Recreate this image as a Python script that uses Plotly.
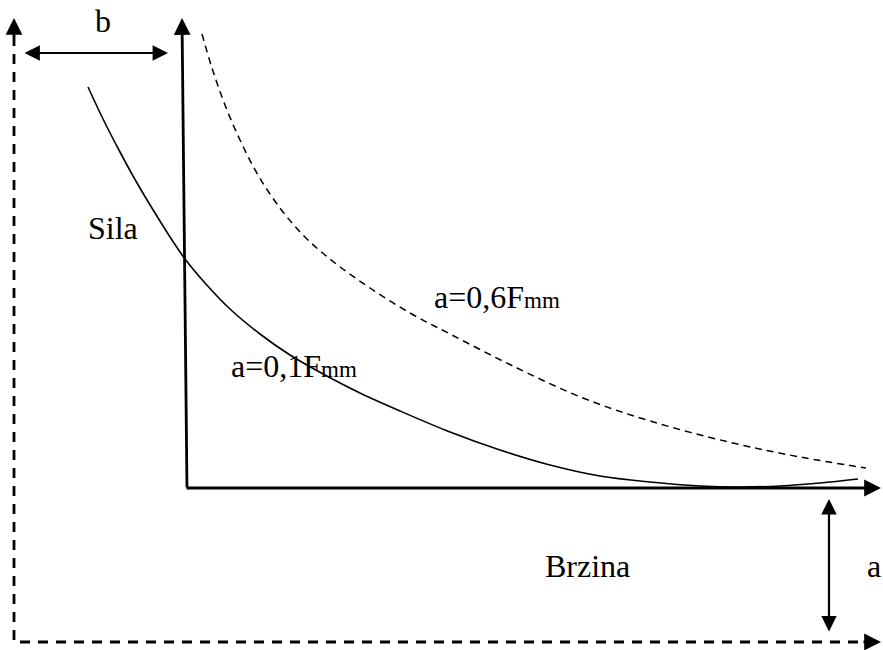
import plotly.graph_objects as go

# Curve data (in the picture's coordinate frame)
solid_x = [88, 104, 120, 137, 155, 172, 185, 205, 230, 260, 290, 325, 360, 400, 450, 500, 550, 600, 650, 700, 740, 780, 820, 858]
solid_y = [87, 121, 152, 183, 213, 240, 259, 283, 309, 334, 355, 375, 393, 411, 432, 450, 465, 476, 482, 486, 487, 486, 483, 479]

dash_x = [202, 212, 225, 240, 258, 280, 305, 335, 370, 410, 450, 517, 583, 650, 733, 800, 866]
dash_y = [34, 68, 105, 140, 175, 208, 237, 263, 288, 313, 334, 368, 398, 421, 443, 457, 468]

# Axis frame geometry
outer_x = [14, 14, 864]
outer_y = [36, 642, 642]

labels = ["b", "Sila", "Brzina", "a", "a=0,6F<span style='font-size:23px'>mm</span>",
          "a=0,1F<span style='font-size:23px'>mm</span>"]
label_x = [103, 113, 587, 874, 432, 229]
label_y = [21, 228, 566, 566, 297, 366]
label_anchor = ["center", "center", "center", "center", "left", "left"]

FONT = "Liberation Serif, Times New Roman, serif"

fig = go.Figure()

fig.add_trace(go.Scatter(x=outer_x, y=outer_y, mode="lines",
                         line=dict(color="black", width=2.8, dash="10px,8px"),
                         hoverinfo="skip", showlegend=False))
fig.add_trace(go.Scatter(x=dash_x, y=dash_y, mode="lines", line_shape="spline",
                         line=dict(color="black", width=1.5, dash="7px,5px"),
                         hoverinfo="skip", showlegend=False))
fig.add_trace(go.Scatter(x=solid_x, y=solid_y, mode="lines", line_shape="spline",
                         line=dict(color="black", width=1.6),
                         hoverinfo="skip", showlegend=False))

def arrow(x, y, ax, ay, width=2.8, size=1.2, both=False):
    fig.add_annotation(x=x, y=y, ax=ax, ay=ay, xref="x", yref="y", axref="x", ayref="y",
                       text="", showarrow=True, arrowhead=2, arrowsize=size,
                       arrowwidth=width, arrowcolor="black",
                       arrowside="end+start" if both else "end",
                       startarrowhead=2, startarrowsize=size, standoff=0, startstandoff=0)

# inner solid axes
arrow(182, 18, 187, 489)
arrow(881, 488, 185, 488)
# outer dashed axis heads
arrow(14, 18, 14, 38)
arrow(881, 642, 862, 642)
# dimension arrows
arrow(168, 53, 23, 53, width=2.2, size=1.4, both=True)
arrow(829, 499, 829, 633, width=2.2, size=1.4, both=True)

for t, x, y, anc in zip(labels, label_x, label_y, label_anchor):
    fig.add_annotation(x=x, y=y, xref="x", yref="y", text=t, showarrow=False,
                       xanchor=anc, yanchor="middle",
                       font=dict(family=FONT, size=32, color="black"))

fig.update_layout(width=883, height=650, margin=dict(l=0, r=0, t=0, b=0, pad=0),
                  paper_bgcolor="white", plot_bgcolor="white", hovermode=False,
                  xaxis=dict(range=[0, 883], visible=False, fixedrange=True),
                  yaxis=dict(range=[650, 0], visible=False, fixedrange=True))

# remove the default 8px page margin so the figure sits exactly in the window
fig.write_html("out.html", config={"displayModeBar": False, "staticPlot": True},
               post_script="document.body.style.margin='0';document.body.style.overflow='hidden';")
